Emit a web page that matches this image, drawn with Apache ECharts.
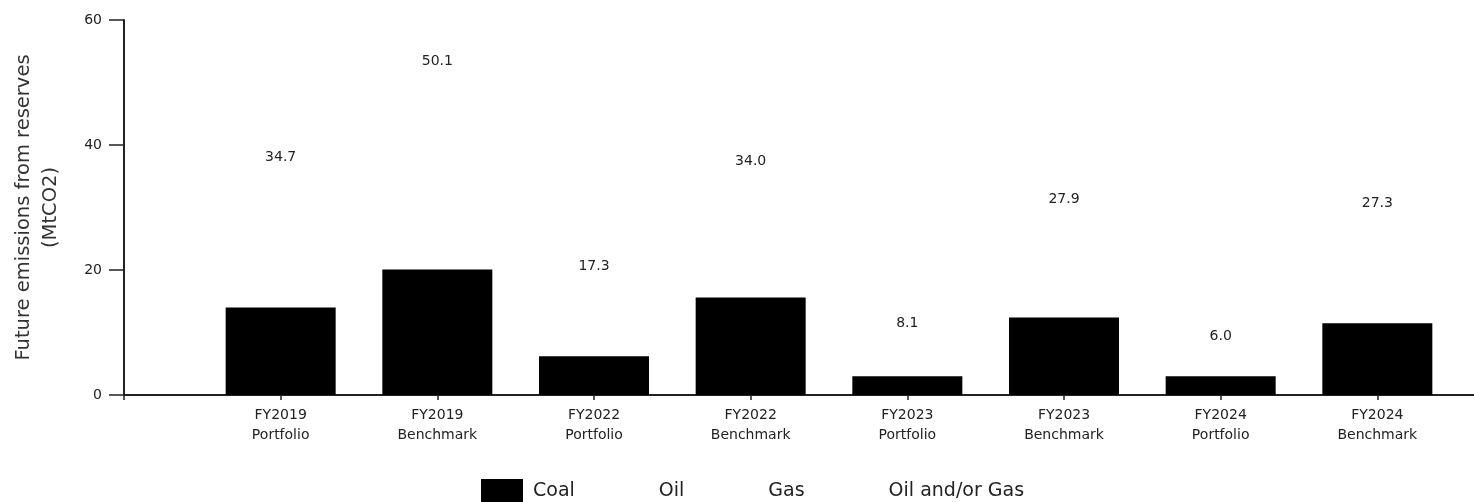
<!DOCTYPE html>
<html>
<head>
<meta charset="utf-8">
<script src="https://cdn.jsdelivr.net/npm/echarts@6/dist/echarts.min.js"></script>
<style>
html,body{margin:0;padding:0;background:#fff;}
#chart{width:1474px;height:502px;}
</style>
</head>
<body>
<div id="chart"></div>
<script>
// ---- data ----
const categories = [
  'FY2019\nPortfolio', 'FY2019\nBenchmark',
  'FY2022\nPortfolio', 'FY2022\nBenchmark',
  'FY2023\nPortfolio', 'FY2023\nBenchmark',
  'FY2024\nPortfolio', 'FY2024\nBenchmark'
];
const coal = [14.0, 20.1, 6.2, 15.6, 3.0, 12.4, 3.0, 11.5];
const oil = [0, 0, 0, 0, 0, 0, 0, 0];
const gas = [0, 0, 0, 0, 0, 0, 0, 0];
const oilOrGas = [20.7, 30.0, 11.1, 18.4, 5.1, 15.5, 3.0, 15.8];
const totals = [34.7, 50.1, 17.3, 34.0, 8.1, 27.9, 6.0, 27.3];
const yTicks = [0, 20, 40, 60];
const seriesNames = ['Coal', 'Oil', 'Gas', 'Oil and/or Gas'];

// ---- chart ----
const FONT = 'DejaVu Sans';
const pad = arr => [null].concat(arr, [null]);
const cats = [''].concat(categories, ['']);

const chart = echarts.init(document.getElementById('chart'), null, {renderer: 'canvas'});

function mk(name, values, color, withLabel) {
  const s = {
    name: name,
    type: 'bar',
    stack: 'total',
    barWidth: 110,
    data: pad(values),
    itemStyle: {color: color},
    emphasis: {disabled: true},
    animation: false
  };
  if (withLabel) {
    s.label = {
      show: true,
      position: 'top',
      distance: 14,
      fontFamily: FONT,
      fontSize: 14,
      color: '#222',
      formatter: p => (p.dataIndex >= 1 && p.dataIndex <= totals.length) ? totals[p.dataIndex - 1].toFixed(1) : ''
    };
  }
  return s;
}

chart.setOption({
  animation: false,
  backgroundColor: '#ffffff',
  grid: {left: 124, width: 1410, top: 20, bottom: 107, containLabel: false, outerBoundsMode: 'none'},
  legend: {
    data: seriesNames,
    top: 479,
    left: 481,
    padding: 0,
    itemWidth: 42,
    itemHeight: 25,
    itemGap: 32,
    icon: 'rect',
    selectedMode: false,
    textStyle: {fontFamily: FONT, fontSize: 19, color: '#222', padding: [0, 0, 0, 5]}
  },
  xAxis: {
    type: 'category',
    data: cats,
    boundaryGap: false,
    axisLine: {show: true, lineStyle: {color: '#222', width: 2}},
    axisTick: {show: true, length: 5, lineStyle: {color: '#222', width: 1.5}},
    axisLabel: {
      interval: 0,
      margin: 10,
      fontFamily: FONT,
      fontSize: 14,
      lineHeight: 20,
      color: '#222'
    },
    splitLine: {show: false}
  },
  yAxis: {
    type: 'value',
    min: yTicks[0],
    max: yTicks[yTicks.length - 1],
    interval: yTicks[1] - yTicks[0],
    name: 'Future emissions from reserves\n(MtCO2)',
    nameLocation: 'middle',
    nameGap: 60,
    nameRotate: 90,
    nameTextStyle: {fontFamily: FONT, fontSize: 19.5, lineHeight: 27, color: '#333'},
    axisLine: {show: true, lineStyle: {color: '#222', width: 2}},
    axisTick: {show: true, length: 15, lineStyle: {color: '#222', width: 1.5}},
    axisLabel: {margin: 22, fontFamily: FONT, fontSize: 14, color: '#222'},
    splitLine: {show: false}
  },
  series: [
    mk(seriesNames[0], coal, '#000000', false),
    mk(seriesNames[1], oil, 'rgba(0,0,0,0)', false),
    mk(seriesNames[2], gas, 'rgba(0,0,0,0)', false),
    mk(seriesNames[3], oilOrGas, 'rgba(0,0,0,0)', true)
  ]
});
</script>
</body>
</html>
